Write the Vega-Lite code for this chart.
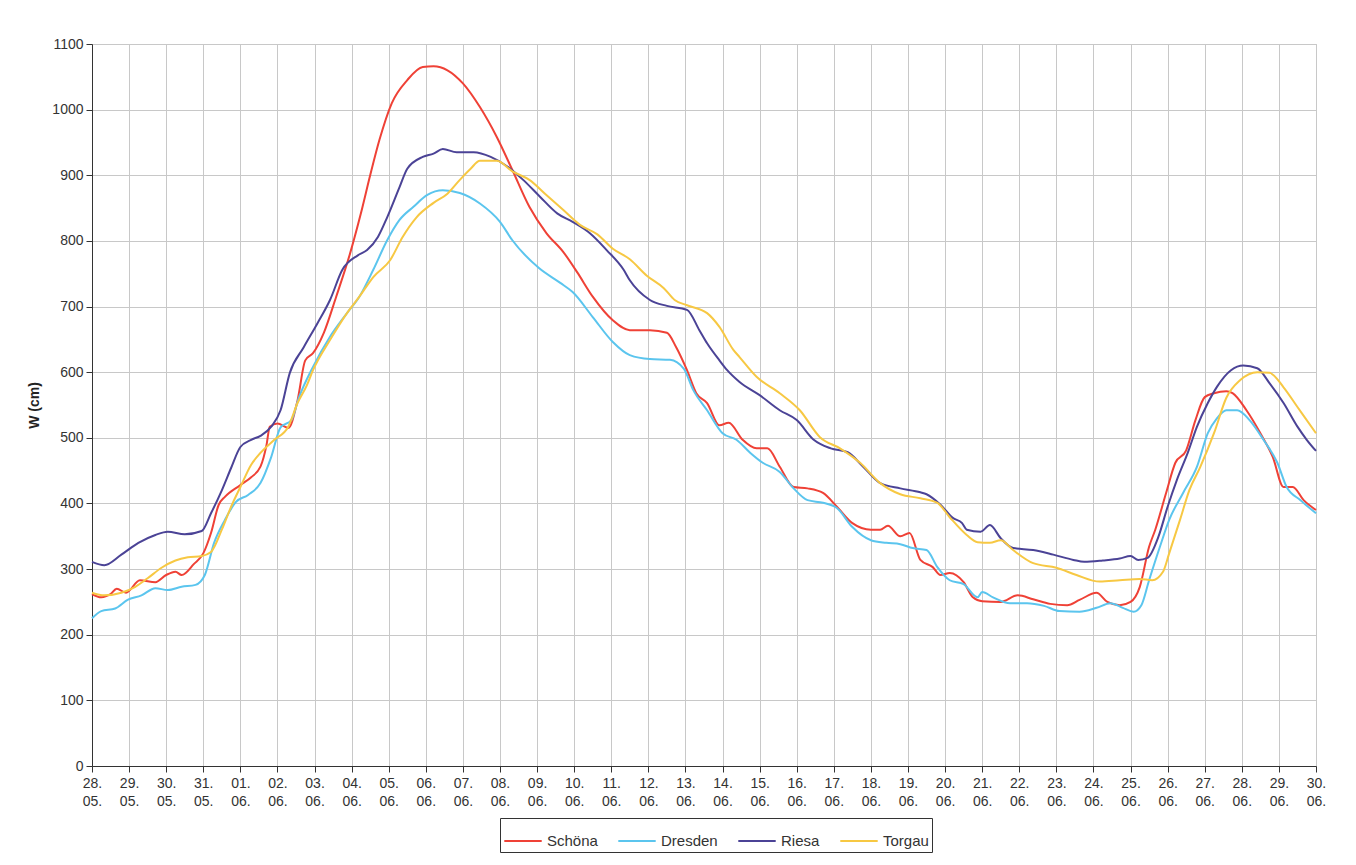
{
"$schema":"https://vega.github.io/schema/vega-lite/v6.json",
"width":1224,"height":722,
"autosize":{"type":"none"},
"padding":{"left":92,"top":44,"right":40,"bottom":99},
"background":"white",
"config":{"font":"Liberation Sans","view":{"stroke":"#bdbdbd","strokeWidth":1}},
"data":{"values":[
{"s":"Schöna","t":"2013-05-28T00:00","w":262},{"s":"Schöna","t":"2013-05-28T06:00","w":257},{"s":"Schöna","t":"2013-05-28T12:00","w":262},{"s":"Schöna","t":"2013-05-28T16:00","w":270},{"s":"Schöna","t":"2013-05-28T22:00","w":264},{"s":"Schöna","t":"2013-05-29T07:00","w":283},{"s":"Schöna","t":"2013-05-29T17:00","w":280},{"s":"Schöna","t":"2013-05-30T00:00","w":291},{"s":"Schöna","t":"2013-05-30T06:00","w":296},{"s":"Schöna","t":"2013-05-30T10:00","w":291},{"s":"Schöna","t":"2013-05-30T18:00","w":308},{"s":"Schöna","t":"2013-05-31T00:00","w":324},{"s":"Schöna","t":"2013-05-31T05:00","w":355},{"s":"Schöna","t":"2013-05-31T10:00","w":398},{"s":"Schöna","t":"2013-05-31T14:00","w":410},{"s":"Schöna","t":"2013-06-01T00:00","w":428},{"s":"Schöna","t":"2013-06-01T07:00","w":440},{"s":"Schöna","t":"2013-06-01T13:00","w":456},{"s":"Schöna","t":"2013-06-01T17:00","w":490},{"s":"Schöna","t":"2013-06-01T19:00","w":517},{"s":"Schöna","t":"2013-06-02T00:00","w":522},{"s":"Schöna","t":"2013-06-02T07:00","w":515},{"s":"Schöna","t":"2013-06-02T13:00","w":557},{"s":"Schöna","t":"2013-06-02T18:00","w":618},{"s":"Schöna","t":"2013-06-02T23:00","w":629},{"s":"Schöna","t":"2013-06-03T06:00","w":660},{"s":"Schöna","t":"2013-06-03T14:00","w":715},{"s":"Schöna","t":"2013-06-03T23:00","w":781},{"s":"Schöna","t":"2013-06-04T06:00","w":842},{"s":"Schöna","t":"2013-06-04T12:00","w":900},{"s":"Schöna","t":"2013-06-04T18:00","w":954},{"s":"Schöna","t":"2013-06-05T02:00","w":1010},{"s":"Schöna","t":"2013-06-05T12:00","w":1045},{"s":"Schöna","t":"2013-06-05T22:00","w":1065},{"s":"Schöna","t":"2013-06-06T05:00","w":1066},{"s":"Schöna","t":"2013-06-06T14:00","w":1060},{"s":"Schöna","t":"2013-06-07T00:00","w":1040},{"s":"Schöna","t":"2013-06-07T11:00","w":1004},{"s":"Schöna","t":"2013-06-07T22:00","w":958},{"s":"Schöna","t":"2013-06-08T08:00","w":908},{"s":"Schöna","t":"2013-06-08T19:00","w":852},{"s":"Schöna","t":"2013-06-09T06:00","w":812},{"s":"Schöna","t":"2013-06-09T17:00","w":783},{"s":"Schöna","t":"2013-06-10T02:00","w":752},{"s":"Schöna","t":"2013-06-10T12:00","w":715},{"s":"Schöna","t":"2013-06-11T01:00","w":679},{"s":"Schöna","t":"2013-06-11T12:00","w":664},{"s":"Schöna","t":"2013-06-12T01:00","w":664},{"s":"Schöna","t":"2013-06-12T12:00","w":660},{"s":"Schöna","t":"2013-06-12T18:00","w":638},{"s":"Schöna","t":"2013-06-13T01:00","w":603},{"s":"Schöna","t":"2013-06-13T07:00","w":568},{"s":"Schöna","t":"2013-06-13T14:00","w":553},{"s":"Schöna","t":"2013-06-13T22:00","w":519},{"s":"Schöna","t":"2013-06-14T04:00","w":523},{"s":"Schöna","t":"2013-06-14T13:00","w":497},{"s":"Schöna","t":"2013-06-14T22:00","w":484},{"s":"Schöna","t":"2013-06-15T05:00","w":484},{"s":"Schöna","t":"2013-06-15T13:00","w":456},{"s":"Schöna","t":"2013-06-15T22:00","w":425},{"s":"Schöna","t":"2013-06-16T07:00","w":423},{"s":"Schöna","t":"2013-06-16T17:00","w":416},{"s":"Schöna","t":"2013-06-17T02:00","w":395},{"s":"Schöna","t":"2013-06-17T12:00","w":370},{"s":"Schöna","t":"2013-06-18T00:00","w":360},{"s":"Schöna","t":"2013-06-18T06:00","w":360},{"s":"Schöna","t":"2013-06-18T11:00","w":366},{"s":"Schöna","t":"2013-06-18T19:00","w":350},{"s":"Schöna","t":"2013-06-19T01:00","w":355},{"s":"Schöna","t":"2013-06-19T08:00","w":314},{"s":"Schöna","t":"2013-06-19T16:00","w":303},{"s":"Schöna","t":"2013-06-19T21:00","w":291},{"s":"Schöna","t":"2013-06-20T03:00","w":294},{"s":"Schöna","t":"2013-06-20T12:00","w":280},{"s":"Schöna","t":"2013-06-20T18:00","w":257},{"s":"Schöna","t":"2013-06-21T00:00","w":251},{"s":"Schöna","t":"2013-06-21T12:00","w":250},{"s":"Schöna","t":"2013-06-21T23:00","w":260},{"s":"Schöna","t":"2013-06-22T09:00","w":254},{"s":"Schöna","t":"2013-06-22T20:00","w":247},{"s":"Schöna","t":"2013-06-23T07:00","w":245},{"s":"Schöna","t":"2013-06-23T15:00","w":253},{"s":"Schöna","t":"2013-06-24T02:00","w":264},{"s":"Schöna","t":"2013-06-24T09:00","w":250},{"s":"Schöna","t":"2013-06-24T17:00","w":245},{"s":"Schöna","t":"2013-06-25T00:00","w":250},{"s":"Schöna","t":"2013-06-25T06:00","w":273},{"s":"Schöna","t":"2013-06-25T12:00","w":334},{"s":"Schöna","t":"2013-06-25T16:00","w":360},{"s":"Schöna","t":"2013-06-25T23:00","w":416},{"s":"Schöna","t":"2013-06-26T05:00","w":462},{"s":"Schöna","t":"2013-06-26T12:00","w":481},{"s":"Schöna","t":"2013-06-26T18:00","w":527},{"s":"Schöna","t":"2013-06-27T00:00","w":562},{"s":"Schöna","t":"2013-06-27T06:00","w":568},{"s":"Schöna","t":"2013-06-27T14:00","w":571},{"s":"Schöna","t":"2013-06-27T18:00","w":568},{"s":"Schöna","t":"2013-06-28T03:00","w":542},{"s":"Schöna","t":"2013-06-28T12:00","w":507},{"s":"Schöna","t":"2013-06-28T20:00","w":471},{"s":"Schöna","t":"2013-06-29T03:00","w":425},{"s":"Schöna","t":"2013-06-29T09:00","w":425},{"s":"Schöna","t":"2013-06-29T16:00","w":405},{"s":"Schöna","t":"2013-06-30T00:00","w":390},
{"s":"Dresden","t":"2013-05-28T00:00","w":225},{"s":"Dresden","t":"2013-05-28T06:00","w":236},{"s":"Dresden","t":"2013-05-28T15:00","w":240},{"s":"Dresden","t":"2013-05-28T23:00","w":253},{"s":"Dresden","t":"2013-05-29T08:00","w":260},{"s":"Dresden","t":"2013-05-29T17:00","w":271},{"s":"Dresden","t":"2013-05-30T01:00","w":268},{"s":"Dresden","t":"2013-05-30T10:00","w":273},{"s":"Dresden","t":"2013-05-30T19:00","w":276},{"s":"Dresden","t":"2013-05-31T01:00","w":291},{"s":"Dresden","t":"2013-05-31T07:00","w":340},{"s":"Dresden","t":"2013-05-31T14:00","w":375},{"s":"Dresden","t":"2013-05-31T21:00","w":402},{"s":"Dresden","t":"2013-06-01T05:00","w":413},{"s":"Dresden","t":"2013-06-01T13:00","w":431},{"s":"Dresden","t":"2013-06-01T20:00","w":471},{"s":"Dresden","t":"2013-06-02T02:00","w":516},{"s":"Dresden","t":"2013-06-02T09:00","w":527},{"s":"Dresden","t":"2013-06-02T14:00","w":562},{"s":"Dresden","t":"2013-06-02T23:00","w":608},{"s":"Dresden","t":"2013-06-03T10:00","w":654},{"s":"Dresden","t":"2013-06-03T21:00","w":690},{"s":"Dresden","t":"2013-06-04T05:00","w":715},{"s":"Dresden","t":"2013-06-04T14:00","w":756},{"s":"Dresden","t":"2013-06-04T23:00","w":801},{"s":"Dresden","t":"2013-06-05T07:00","w":832},{"s":"Dresden","t":"2013-06-05T16:00","w":852},{"s":"Dresden","t":"2013-06-06T01:00","w":870},{"s":"Dresden","t":"2013-06-06T11:00","w":877},{"s":"Dresden","t":"2013-06-06T22:00","w":873},{"s":"Dresden","t":"2013-06-07T11:00","w":857},{"s":"Dresden","t":"2013-06-08T00:00","w":829},{"s":"Dresden","t":"2013-06-08T08:00","w":801},{"s":"Dresden","t":"2013-06-09T01:00","w":759},{"s":"Dresden","t":"2013-06-09T15:00","w":736},{"s":"Dresden","t":"2013-06-09T23:00","w":722},{"s":"Dresden","t":"2013-06-10T12:00","w":684},{"s":"Dresden","t":"2013-06-11T01:00","w":646},{"s":"Dresden","t":"2013-06-11T12:00","w":626},{"s":"Dresden","t":"2013-06-12T01:00","w":620},{"s":"Dresden","t":"2013-06-12T14:00","w":619},{"s":"Dresden","t":"2013-06-12T23:00","w":605},{"s":"Dresden","t":"2013-06-13T05:00","w":573},{"s":"Dresden","t":"2013-06-13T14:00","w":542},{"s":"Dresden","t":"2013-06-14T00:00","w":507},{"s":"Dresden","t":"2013-06-14T09:00","w":497},{"s":"Dresden","t":"2013-06-14T18:00","w":477},{"s":"Dresden","t":"2013-06-15T02:00","w":462},{"s":"Dresden","t":"2013-06-15T13:00","w":448},{"s":"Dresden","t":"2013-06-15T22:00","w":423},{"s":"Dresden","t":"2013-06-16T07:00","w":405},{"s":"Dresden","t":"2013-06-16T17:00","w":401},{"s":"Dresden","t":"2013-06-17T02:00","w":393},{"s":"Dresden","t":"2013-06-17T12:00","w":364},{"s":"Dresden","t":"2013-06-18T00:00","w":344},{"s":"Dresden","t":"2013-06-18T10:00","w":340},{"s":"Dresden","t":"2013-06-18T19:00","w":338},{"s":"Dresden","t":"2013-06-19T03:00","w":332},{"s":"Dresden","t":"2013-06-19T12:00","w":329},{"s":"Dresden","t":"2013-06-19T19:00","w":303},{"s":"Dresden","t":"2013-06-20T03:00","w":283},{"s":"Dresden","t":"2013-06-20T12:00","w":277},{"s":"Dresden","t":"2013-06-20T21:00","w":257},{"s":"Dresden","t":"2013-06-21T00:00","w":265},{"s":"Dresden","t":"2013-06-21T07:00","w":257},{"s":"Dresden","t":"2013-06-21T18:00","w":248},{"s":"Dresden","t":"2013-06-22T05:00","w":248},{"s":"Dresden","t":"2013-06-22T16:00","w":244},{"s":"Dresden","t":"2013-06-23T02:00","w":236},{"s":"Dresden","t":"2013-06-23T15:00","w":235},{"s":"Dresden","t":"2013-06-24T02:00","w":241},{"s":"Dresden","t":"2013-06-24T11:00","w":248},{"s":"Dresden","t":"2013-06-24T19:00","w":241},{"s":"Dresden","t":"2013-06-25T02:00","w":235},{"s":"Dresden","t":"2013-06-25T07:00","w":245},{"s":"Dresden","t":"2013-06-25T12:00","w":283},{"s":"Dresden","t":"2013-06-25T19:00","w":334},{"s":"Dresden","t":"2013-06-26T01:00","w":375},{"s":"Dresden","t":"2013-06-26T10:00","w":416},{"s":"Dresden","t":"2013-06-26T19:00","w":456},{"s":"Dresden","t":"2013-06-27T02:00","w":507},{"s":"Dresden","t":"2013-06-27T08:00","w":530},{"s":"Dresden","t":"2013-06-27T14:00","w":542},{"s":"Dresden","t":"2013-06-27T21:00","w":542},{"s":"Dresden","t":"2013-06-28T05:00","w":527},{"s":"Dresden","t":"2013-06-28T14:00","w":497},{"s":"Dresden","t":"2013-06-28T23:00","w":462},{"s":"Dresden","t":"2013-06-29T05:00","w":425},{"s":"Dresden","t":"2013-06-29T14:00","w":405},{"s":"Dresden","t":"2013-06-30T00:00","w":385},
{"s":"Riesa","t":"2013-05-28T00:00","w":311},{"s":"Riesa","t":"2013-05-28T08:00","w":306},{"s":"Riesa","t":"2013-05-28T19:00","w":322},{"s":"Riesa","t":"2013-05-29T06:00","w":340},{"s":"Riesa","t":"2013-05-29T17:00","w":352},{"s":"Riesa","t":"2013-05-30T01:00","w":357},{"s":"Riesa","t":"2013-05-30T12:00","w":353},{"s":"Riesa","t":"2013-05-30T23:00","w":358},{"s":"Riesa","t":"2013-05-31T05:00","w":385},{"s":"Riesa","t":"2013-05-31T12:00","w":420},{"s":"Riesa","t":"2013-05-31T18:00","w":454},{"s":"Riesa","t":"2013-06-01T00:00","w":486},{"s":"Riesa","t":"2013-06-01T07:00","w":497},{"s":"Riesa","t":"2013-06-01T13:00","w":503},{"s":"Riesa","t":"2013-06-01T20:00","w":517},{"s":"Riesa","t":"2013-06-02T02:00","w":542},{"s":"Riesa","t":"2013-06-02T08:00","w":599},{"s":"Riesa","t":"2013-06-02T17:00","w":638},{"s":"Riesa","t":"2013-06-03T02:00","w":675},{"s":"Riesa","t":"2013-06-03T10:00","w":710},{"s":"Riesa","t":"2013-06-03T18:00","w":756},{"s":"Riesa","t":"2013-06-04T04:00","w":778},{"s":"Riesa","t":"2013-06-04T10:00","w":786},{"s":"Riesa","t":"2013-06-04T17:00","w":806},{"s":"Riesa","t":"2013-06-04T23:00","w":836},{"s":"Riesa","t":"2013-06-05T07:00","w":882},{"s":"Riesa","t":"2013-06-05T12:00","w":910},{"s":"Riesa","t":"2013-06-05T22:00","w":928},{"s":"Riesa","t":"2013-06-06T05:00","w":933},{"s":"Riesa","t":"2013-06-06T11:00","w":940},{"s":"Riesa","t":"2013-06-06T20:00","w":935},{"s":"Riesa","t":"2013-06-07T07:00","w":935},{"s":"Riesa","t":"2013-06-07T18:00","w":928},{"s":"Riesa","t":"2013-06-08T05:00","w":913},{"s":"Riesa","t":"2013-06-08T15:00","w":893},{"s":"Riesa","t":"2013-06-09T02:00","w":867},{"s":"Riesa","t":"2013-06-09T13:00","w":842},{"s":"Riesa","t":"2013-06-09T23:00","w":829},{"s":"Riesa","t":"2013-06-10T10:00","w":812},{"s":"Riesa","t":"2013-06-10T21:00","w":786},{"s":"Riesa","t":"2013-06-11T08:00","w":756},{"s":"Riesa","t":"2013-06-11T12:00","w":740},{"s":"Riesa","t":"2013-06-12T01:00","w":710},{"s":"Riesa","t":"2013-06-12T12:00","w":701},{"s":"Riesa","t":"2013-06-13T01:00","w":695},{"s":"Riesa","t":"2013-06-13T09:00","w":664},{"s":"Riesa","t":"2013-06-13T14:00","w":644},{"s":"Riesa","t":"2013-06-13T22:00","w":618},{"s":"Riesa","t":"2013-06-14T03:00","w":603},{"s":"Riesa","t":"2013-06-14T11:00","w":585},{"s":"Riesa","t":"2013-06-15T00:00","w":565},{"s":"Riesa","t":"2013-06-15T13:00","w":542},{"s":"Riesa","t":"2013-06-16T00:00","w":527},{"s":"Riesa","t":"2013-06-16T11:00","w":497},{"s":"Riesa","t":"2013-06-16T22:00","w":484},{"s":"Riesa","t":"2013-06-17T09:00","w":478},{"s":"Riesa","t":"2013-06-17T19:00","w":456},{"s":"Riesa","t":"2013-06-18T06:00","w":431},{"s":"Riesa","t":"2013-06-18T19:00","w":423},{"s":"Riesa","t":"2013-06-19T08:00","w":417},{"s":"Riesa","t":"2013-06-19T12:00","w":414},{"s":"Riesa","t":"2013-06-19T21:00","w":398},{"s":"Riesa","t":"2013-06-20T05:00","w":378},{"s":"Riesa","t":"2013-06-20T11:00","w":370},{"s":"Riesa","t":"2013-06-20T14:00","w":360},{"s":"Riesa","t":"2013-06-20T23:00","w":357},{"s":"Riesa","t":"2013-06-21T05:00","w":367},{"s":"Riesa","t":"2013-06-21T12:00","w":347},{"s":"Riesa","t":"2013-06-21T20:00","w":332},{"s":"Riesa","t":"2013-06-22T09:00","w":329},{"s":"Riesa","t":"2013-06-22T22:00","w":322},{"s":"Riesa","t":"2013-06-23T11:00","w":314},{"s":"Riesa","t":"2013-06-23T18:00","w":311},{"s":"Riesa","t":"2013-06-24T06:00","w":313},{"s":"Riesa","t":"2013-06-24T17:00","w":316},{"s":"Riesa","t":"2013-06-25T00:00","w":320},{"s":"Riesa","t":"2013-06-25T05:00","w":314},{"s":"Riesa","t":"2013-06-25T11:00","w":317},{"s":"Riesa","t":"2013-06-25T18:00","w":349},{"s":"Riesa","t":"2013-06-26T00:00","w":395},{"s":"Riesa","t":"2013-06-26T06:00","w":436},{"s":"Riesa","t":"2013-06-26T13:00","w":477},{"s":"Riesa","t":"2013-06-26T19:00","w":517},{"s":"Riesa","t":"2013-06-27T02:00","w":553},{"s":"Riesa","t":"2013-06-27T08:00","w":578},{"s":"Riesa","t":"2013-06-27T17:00","w":603},{"s":"Riesa","t":"2013-06-28T01:00","w":610},{"s":"Riesa","t":"2013-06-28T10:00","w":606},{"s":"Riesa","t":"2013-06-28T18:00","w":583},{"s":"Riesa","t":"2013-06-29T03:00","w":553},{"s":"Riesa","t":"2013-06-29T12:00","w":517},{"s":"Riesa","t":"2013-06-29T18:00","w":497},{"s":"Riesa","t":"2013-06-30T00:00","w":480},
{"s":"Torgau","t":"2013-05-28T00:00","w":264},{"s":"Torgau","t":"2013-05-28T08:00","w":260},{"s":"Torgau","t":"2013-05-28T19:00","w":264},{"s":"Torgau","t":"2013-05-29T04:00","w":273},{"s":"Torgau","t":"2013-05-29T12:00","w":286},{"s":"Torgau","t":"2013-05-29T21:00","w":302},{"s":"Torgau","t":"2013-05-30T06:00","w":313},{"s":"Torgau","t":"2013-05-30T14:00","w":318},{"s":"Torgau","t":"2013-05-30T23:00","w":320},{"s":"Torgau","t":"2013-05-31T05:00","w":326},{"s":"Torgau","t":"2013-05-31T12:00","w":360},{"s":"Torgau","t":"2013-05-31T18:00","w":395},{"s":"Torgau","t":"2013-06-01T00:00","w":425},{"s":"Torgau","t":"2013-06-01T07:00","w":459},{"s":"Torgau","t":"2013-06-01T13:00","w":477},{"s":"Torgau","t":"2013-06-01T22:00","w":497},{"s":"Torgau","t":"2013-06-02T07:00","w":517},{"s":"Torgau","t":"2013-06-02T13:00","w":553},{"s":"Torgau","t":"2013-06-02T19:00","w":580},{"s":"Torgau","t":"2013-06-02T23:00","w":603},{"s":"Torgau","t":"2013-06-03T10:00","w":649},{"s":"Torgau","t":"2013-06-03T21:00","w":690},{"s":"Torgau","t":"2013-06-04T05:00","w":715},{"s":"Torgau","t":"2013-06-04T14:00","w":745},{"s":"Torgau","t":"2013-06-05T01:00","w":771},{"s":"Torgau","t":"2013-06-05T09:00","w":806},{"s":"Torgau","t":"2013-06-05T18:00","w":836},{"s":"Torgau","t":"2013-06-06T05:00","w":858},{"s":"Torgau","t":"2013-06-06T14:00","w":872},{"s":"Torgau","t":"2013-06-06T22:00","w":893},{"s":"Torgau","t":"2013-06-07T05:00","w":910},{"s":"Torgau","t":"2013-06-07T11:00","w":922},{"s":"Torgau","t":"2013-06-07T22:00","w":922},{"s":"Torgau","t":"2013-06-08T08:00","w":906},{"s":"Torgau","t":"2013-06-08T19:00","w":893},{"s":"Torgau","t":"2013-06-09T06:00","w":870},{"s":"Torgau","t":"2013-06-09T17:00","w":847},{"s":"Torgau","t":"2013-06-10T04:00","w":824},{"s":"Torgau","t":"2013-06-10T15:00","w":810},{"s":"Torgau","t":"2013-06-11T01:00","w":788},{"s":"Torgau","t":"2013-06-11T12:00","w":772},{"s":"Torgau","t":"2013-06-11T23:00","w":747},{"s":"Torgau","t":"2013-06-12T10:00","w":728},{"s":"Torgau","t":"2013-06-12T17:00","w":710},{"s":"Torgau","t":"2013-06-13T01:00","w":702},{"s":"Torgau","t":"2013-06-13T14:00","w":690},{"s":"Torgau","t":"2013-06-13T22:00","w":669},{"s":"Torgau","t":"2013-06-14T07:00","w":634},{"s":"Torgau","t":"2013-06-14T11:00","w":623},{"s":"Torgau","t":"2013-06-14T22:00","w":593},{"s":"Torgau","t":"2013-06-15T13:00","w":568},{"s":"Torgau","t":"2013-06-16T02:00","w":542},{"s":"Torgau","t":"2013-06-16T15:00","w":501},{"s":"Torgau","t":"2013-06-17T04:00","w":484},{"s":"Torgau","t":"2013-06-17T17:00","w":462},{"s":"Torgau","t":"2013-06-18T06:00","w":431},{"s":"Torgau","t":"2013-06-18T19:00","w":414},{"s":"Torgau","t":"2013-06-19T08:00","w":408},{"s":"Torgau","t":"2013-06-19T19:00","w":401},{"s":"Torgau","t":"2013-06-20T03:00","w":379},{"s":"Torgau","t":"2013-06-20T14:00","w":352},{"s":"Torgau","t":"2013-06-20T21:00","w":341},{"s":"Torgau","t":"2013-06-21T05:00","w":340},{"s":"Torgau","t":"2013-06-21T12:00","w":344},{"s":"Torgau","t":"2013-06-21T20:00","w":329},{"s":"Torgau","t":"2013-06-22T09:00","w":309},{"s":"Torgau","t":"2013-06-23T00:00","w":302},{"s":"Torgau","t":"2013-06-23T13:00","w":291},{"s":"Torgau","t":"2013-06-24T04:00","w":281},{"s":"Torgau","t":"2013-06-24T17:00","w":283},{"s":"Torgau","t":"2013-06-25T06:00","w":285},{"s":"Torgau","t":"2013-06-25T14:00","w":283},{"s":"Torgau","t":"2013-06-25T21:00","w":296},{"s":"Torgau","t":"2013-06-26T01:00","w":324},{"s":"Torgau","t":"2013-06-26T08:00","w":375},{"s":"Torgau","t":"2013-06-26T14:00","w":420},{"s":"Torgau","t":"2013-06-26T21:00","w":455},{"s":"Torgau","t":"2013-06-27T06:00","w":507},{"s":"Torgau","t":"2013-06-27T14:00","w":561},{"s":"Torgau","t":"2013-06-27T23:00","w":588},{"s":"Torgau","t":"2013-06-28T10:00","w":600},{"s":"Torgau","t":"2013-06-28T18:00","w":599},{"s":"Torgau","t":"2013-06-29T03:00","w":577},{"s":"Torgau","t":"2013-06-29T12:00","w":547},{"s":"Torgau","t":"2013-06-30T00:00","w":507}
]},
"mark":{"type":"line","strokeWidth":2,"interpolate":"monotone"},
"encoding":{
"x":{"field":"t","type":"temporal",
 "scale":{"domain":[{"year":2013,"month":5,"date":28},{"year":2013,"month":6,"date":30}],"nice":false},
 "axis":{"title":null,"tickCount":{"interval":"day","step":1},"labelExpr":"[timeFormat(datum.value, '%d.'), timeFormat(datum.value, '%m.')]","labelLineHeight":18,"labelFontSize":14,"labelColor":"#333333","labelAngle":0,"labelOverlap":false,"labelFlush":false,"labelPadding":4,"labelBaseline":"top","tickSize":6,"tickColor":"#333333","domainColor":"#333333","gridColor":"#c8c8c8","gridOpacity":1}},
"y":{"field":"w","type":"quantitative",
 "scale":{"domain":[0,1100],"nice":false},
 "axis":{"title":"W (cm)","format":"d","titleFontSize":14,"titleFontWeight":"bold","titleColor":"#222222","titlePadding":10,"values":[0,100,200,300,400,500,600,700,800,900,1000,1100],"labelFontSize":14,"labelColor":"#333333","labelPadding":3,"tickSize":6,"tickColor":"#333333","domainColor":"#333333","gridColor":"#c8c8c8","gridOpacity":1}},
"color":{"field":"s","type":"nominal",
 "scale":{"domain":["Schöna","Dresden","Riesa","Torgau"],"range":["#ef4136","#5bc5ee","#4b4396","#f7c843"]},
 "legend":{"orient":"none","legendX":408,"legendY":774,"direction":"horizontal","title":null,"symbolType":"stroke","symbolStrokeWidth":2,"symbolSize":1400,"labelFontSize":15,"labelColor":"#333333","strokeColor":"#333333","fillColor":"white","padding":3,"columnPadding":16,"labelOffset":4}}
}
}
